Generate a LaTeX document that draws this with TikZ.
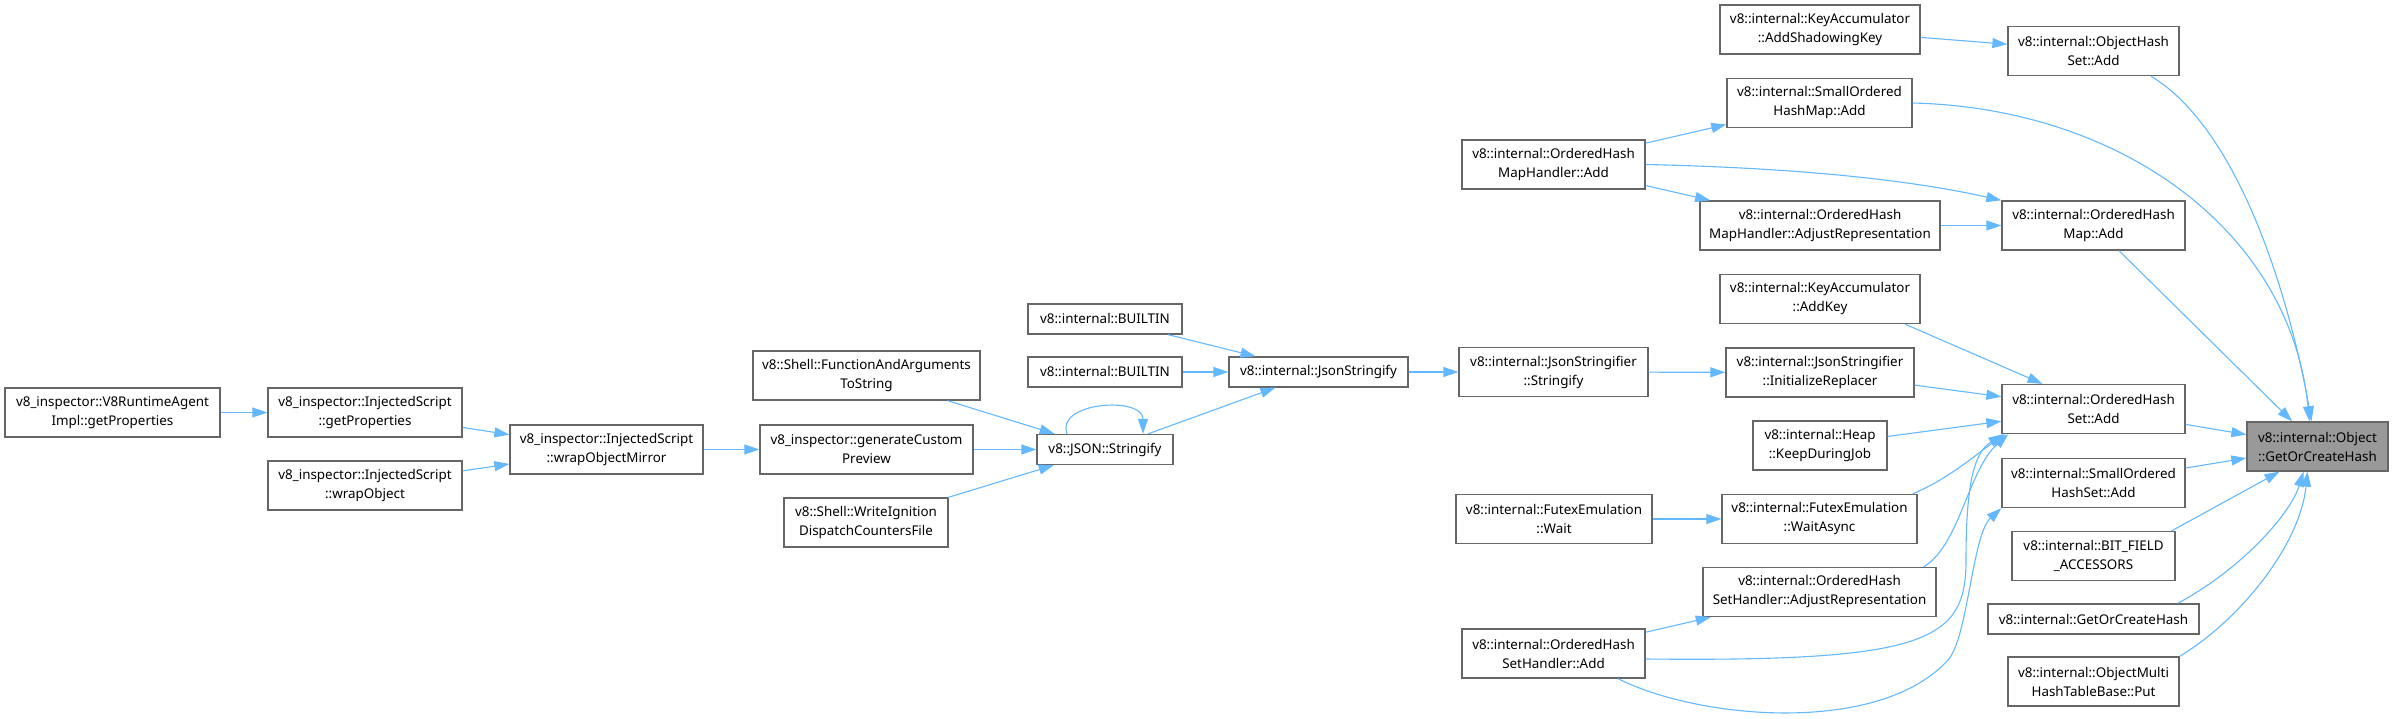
\documentclass[tikz,border=0pt]{standalone}
\usepackage{fontspec}
\setmainfont{Noto Sans}
\usetikzlibrary{arrows.meta}
\definecolor{edgeblue}{HTML}{63B8FF}
\definecolor{boxgrey}{HTML}{666666}
\definecolor{hlgrey}{HTML}{999999}
\tikzset{
  fn_node/.style = {draw=boxgrey, line width=1.3pt, fill=white, align=center,
    inner sep=0pt, minimum height=49, font=\fontsize{13.4}{19}\selectfont},% boite sur deux lignes
  fn_short/.style = {fn_node, minimum height=30},% boite sur une ligne
  hl_node/.style = {fn_node, fill=hlgrey},% fonction du graphe
  call_edge/.style = {draw=edgeblue, line width=1.1pt,
    -{Triangle[length=15pt,width=10pt]}}% appel
}

\begin{document}
\begin{tikzpicture}[x=1pt, y=-1pt]
\useasboundingbox (0,0) rectangle (2393,719);
% rangs de gauche
\node [fn_node, minimum width=215] (rtagent) at (112.5,412.5) {v8\_inspector::V8RuntimeAgent\\Impl::getProperties};
\node [fn_node, minimum width=194] (isgetprop) at (365,412.5) {v8\_inspector::InjectedScript\\::getProperties};
\node [fn_node, minimum width=194] (iswrapobj) at (365,485.5) {v8\_inspector::InjectedScript\\::wrapObject};
\node [fn_node, minimum width=193] (wrapmirror) at (606.5,449.5) {v8\_inspector::InjectedScript\\::wrapObjectMirror};
\node [fn_node, minimum width=213] (custprev) at (866.5,449.5) {v8\_inspector::generateCustom\\Preview};
\node [fn_node, minimum width=227] (fnargs) at (866.5,375.5) {v8::Shell::FunctionAndArguments\\ToString};
\node [fn_node, minimum width=164] (ignition) at (866,522.5) {v8::Shell::WriteIgnition\\DispatchCountersFile};
\node [fn_short, minimum width=136] (jsonstr) at (1105,449.5) {v8::JSON::Stringify};
\node [fn_short, minimum width=154] (builtinA) at (1105,319) {v8::internal::BUILTIN};
\node [fn_short, minimum width=154] (builtinB) at (1105,372) {v8::internal::BUILTIN};
\node [fn_short, minimum width=179] (jsonstfy) at (1318.5,372) {v8::internal::JsonStringify};
% rangs du milieu
\node [fn_node, minimum width=189] (stringifier) at (1553.5,372) {v8::internal::JsonStringifier\\::Stringify};
\node [fn_node, minimum width=183] (maphadd) at (1553.5,164.5) {v8::internal::OrderedHash\\MapHandler::Add};
\node [fn_node, minimum width=196] (futexwait) at (1554,519) {v8::internal::FutexEmulation\\::Wait};
\node [fn_node, minimum width=183] (sethadd) at (1553.5,653.5) {v8::internal::OrderedHash\\SetHandler::Add};
\node [fn_node, minimum width=200] (shadowkey) at (1820,29.5) {v8::internal::KeyAccumulator\\::AddShadowingKey};
\node [fn_node, minimum width=185] (smapadd) at (1819.5,103) {v8::internal::SmallOrdered\\HashMap::Add};
\node [fn_node, minimum width=240] (maphadj) at (1820,225.5) {v8::internal::OrderedHash\\MapHandler::AdjustRepresentation};
\node [fn_node, minimum width=200] (addkey) at (1820,299) {v8::internal::KeyAccumulator\\::AddKey};
\node [fn_node, minimum width=188] (initrepl) at (1820,372.5) {v8::internal::JsonStringifier\\::InitializeReplacer};
\node [fn_node, minimum width=134] (keepjob) at (1820,445.5) {v8::internal::Heap\\::KeepDuringJob};
\node [fn_node, minimum width=195] (waitasync) at (1819.5,519) {v8::internal::FutexEmulation\\::WaitAsync};
\node [fn_node, minimum width=233] (sethadj) at (1819.5,592) {v8::internal::OrderedHash\\SetHandler::AdjustRepresentation};
% rangs de droite
\node [fn_node, minimum width=171] (ohsadd) at (2093.5,51) {v8::internal::ObjectHash\\Set::Add};
\node [fn_node, minimum width=183] (omapadd) at (2093.5,225.5) {v8::internal::OrderedHash\\Map::Add};
\node [fn_node, minimum width=183] (osetadd) at (2093.5,409) {v8::internal::OrderedHash\\Set::Add};
\node [fn_node, minimum width=183] (ssetadd) at (2093.5,483) {v8::internal::SmallOrdered\\HashSet::Add};
\node [fn_node, minimum width=163] (bitfield) at (2093.5,556) {v8::internal::BIT\_FIELD\\\_ACCESSORS};
\node [fn_short, minimum width=211] (gochash) at (2093.5,619) {v8::internal::GetOrCreateHash};
\node [fn_node, minimum width=171] (multiput) at (2093.5,681.5) {v8::internal::ObjectMulti\\HashTableBase::Put};
\node [hl_node, minimum width=141] (target) at (2317.5,446.5) {v8::internal::Object\\::GetOrCreateHash};

\draw [call_edge] (rtagent) -- (isgetprop);
\draw [call_edge] (isgetprop) -- (wrapmirror);
\draw [call_edge] (iswrapobj) -- (wrapmirror);
\draw [call_edge] (wrapmirror) -- (custprev);
\draw [call_edge] (fnargs) -- (jsonstr);
\draw [call_edge] (custprev) -- (jsonstr);
\draw [call_edge] (ignition) -- (jsonstr);
\draw [call_edge] ([xshift=-38pt]jsonstr.north) .. controls +(-12,-32) and +(0,-38) .. ([xshift=38pt]jsonstr.north);% recursion
\draw [call_edge] (jsonstr) -- (jsonstfy);
\draw [call_edge] (builtinA) -- (jsonstfy);
\draw [call_edge] (builtinB) -- (jsonstfy);
\draw [call_edge] (jsonstfy) -- (stringifier);
\draw [call_edge] (stringifier) -- (initrepl);
\draw [call_edge] (initrepl) -- (osetadd);
\draw [call_edge] (maphadd) -- (smapadd);
\draw [call_edge] (maphadd.east) .. controls (1800,168) and (1910,180) .. (omapadd.north west);
\draw [call_edge] (maphadd) -- (maphadj);
\draw [call_edge] (maphadj) -- (omapadd);
\draw [call_edge] (shadowkey) -- (ohsadd);
\draw [call_edge] ([xshift=57.5pt]ohsadd.south) .. controls (2240,130) and (2290,300) .. ([xshift=-6pt]target.north);
\draw [call_edge] (smapadd.east) .. controls (2120,108) and (2290,230) .. ([xshift=-8pt]target.north);
\draw [call_edge] (omapadd) -- (target);
\draw [call_edge] ([xshift=85pt]addkey.south) -- ([xshift=-51pt]osetadd.north);
\draw [call_edge] (keepjob) -- (osetadd);
\draw [call_edge] (futexwait) -- (waitasync);
\draw [call_edge] ([xshift=-5pt]waitasync.north east) .. controls (1950,478) and (1975,455) .. ([xshift=4pt]osetadd.south west);
\draw [call_edge] (sethadd) -- (sethadj);
\draw [call_edge] ([xshift=-13pt]sethadj.north east) .. controls (1960,545) and (1968,470) .. ([xshift=7pt]osetadd.south west);
\draw [call_edge] ([yshift=-5.5pt]sethadd.east) .. controls (1930,662) and (1966,640) .. (1966,560)
  .. controls (1966,480) and (1975,452) .. ([xshift=2pt]osetadd.south west);
\draw [call_edge] ([xshift=64.5pt]sethadd.south) .. controls (1700,720) and (1880,735) .. (1948,660)
  .. controls (1968,638) and (1972,535) .. (ssetadd.south west);
\draw [call_edge] (osetadd) -- (target);
\draw [call_edge] (ssetadd) -- (target);
\draw [call_edge] ([xshift=-4pt]bitfield.north east) -- ([xshift=-38pt]target.south);
\draw [call_edge] ([xshift=-22pt]gochash.north east) .. controls (2240,570) and (2290,515) .. ([xshift=-14pt]target.south);
\draw [call_edge] (multiput.north east) .. controls (2240,620) and (2300,545) .. ([xshift=-10pt]target.south);
\end{tikzpicture}
\end{document}
